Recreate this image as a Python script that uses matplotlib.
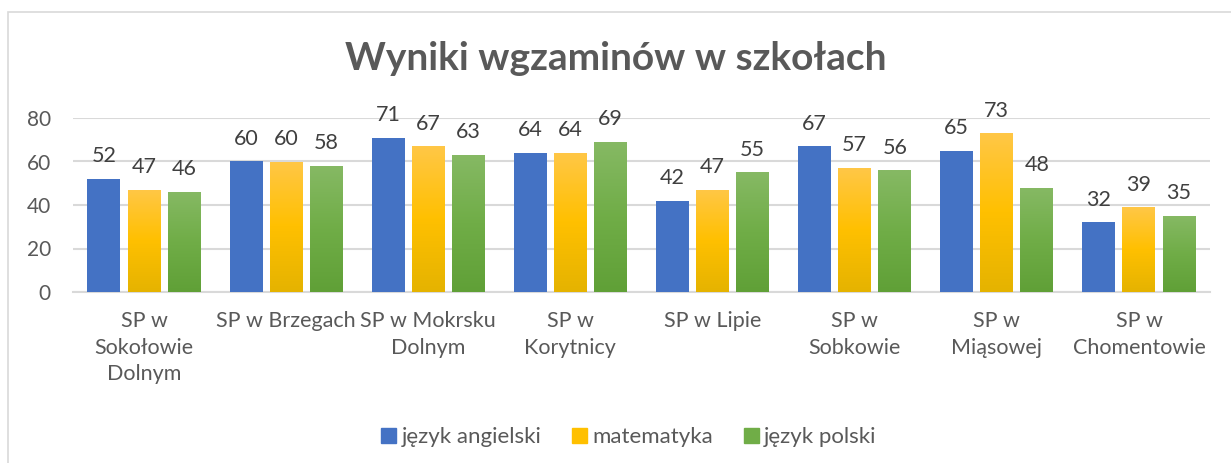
import numpy as np
import matplotlib.pyplot as plt
from matplotlib.patches import Rectangle
from matplotlib.colors import LinearSegmentedColormap

plt.rcParams['font.family'] = ['Lato', 'DejaVu Sans']

szkoly = ['SP w\nSokołowie\nDolnym', 'SP w Brzegach', 'SP w Mokrsku\nDolnym', 'SP w\nKorytnicy',
          'SP w Lipie', 'SP w\nSobkowie', 'SP w\nMiąsowej', 'SP w\nChomentowie']
angielski = [52, 60, 71, 64, 42, 67, 65, 32]
matematyka = [47, 60, 67, 64, 47, 57, 73, 39]
polski = [46, 58, 63, 69, 55, 56, 48, 35]
przedmioty = ['język angielski', 'matematyka', 'język polski']

grey = '#595959'
fig = plt.figure(figsize=(12.31, 4.63), dpi=100)
fig.patches.append(Rectangle((8/1231, -0.1), 1.1, (463-12)/463 + 0.1, transform=fig.transFigure,
                             fill=False, edgecolor='#d9d9d9', linewidth=1.2))
ax = fig.add_axes([73/1231, 1-292/463, (1210-73)/1231, 174/463])

x = np.arange(len(szkoly))
w = 0.232
step = 0.282
gradients = [None,
             ['#ffc746', '#ffc000', '#e5b300'],
             ['#86b964', '#70ad47', '#60a037']]
solid = ['#4472c4', '#ffc000', '#70ad47']
series = [angielski, matematyka, polski]

for i, (vals, name) in enumerate(zip(series, przedmioty)):
    bars = ax.bar(x + (i-1)*step, vals, w, color=solid[i], label=name, zorder=3)
    if gradients[i] is not None:
        cmap = LinearSegmentedColormap.from_list('g%d' % i, gradients[i][::-1])
        for b in bars:
            b.set_facecolor('none')
            im = ax.imshow(np.linspace(0, 1, 100).reshape(-1, 1), cmap=cmap, aspect='auto',
                           origin='lower', extent=[b.get_x(), b.get_x()+b.get_width(), 0, b.get_height()],
                           zorder=3)
            im.set_clip_path(b)
    for xi, v in zip(x + (i-1)*step, vals):
        ax.annotate(str(v), (xi, v), xytext=(0, 12), textcoords='offset points',
                    ha='center', va='baseline', fontsize=15.5, color='#404040')

ax.set_xlim(-0.5, len(szkoly)-0.5)
ax.set_ylim(0, 80)
ax.set_yticks([0, 20, 40, 60, 80])
ax.set_xticks(x)
ax.set_xticklabels(szkoly, fontsize=15.5, color=grey, linespacing=1.4, va='top')
ax.tick_params(axis='y', labelsize=15, labelcolor=grey, length=0, pad=16)
ax.tick_params(axis='x', length=0, pad=14)
ax.grid(axis='y', color='#d9d9d9', linewidth=1.5, zorder=0)
for s in ['top', 'right', 'left']:
    ax.spines[s].set_visible(False)
ax.spines['bottom'].set_color('#d9d9d9')
ax.spines['bottom'].set_linewidth(1.5)

fig.text(0.5, 1-59/463, 'Wyniki wgzaminów w szkołach', ha='center', va='center',
         fontsize=28, fontweight='bold', color=grey)

handles = [Rectangle((0, 0), 1, 1, color=c) for c in solid]
fig.legend(handles, przedmioty, loc='center', bbox_to_anchor=(629/1231, 1-437/463), ncol=3,
           frameon=False, fontsize=16, labelcolor=grey, handlelength=0.65, handleheight=0.65,
           handletextpad=0.25, columnspacing=1.4)

fig.savefig('out.png', dpi=100)
